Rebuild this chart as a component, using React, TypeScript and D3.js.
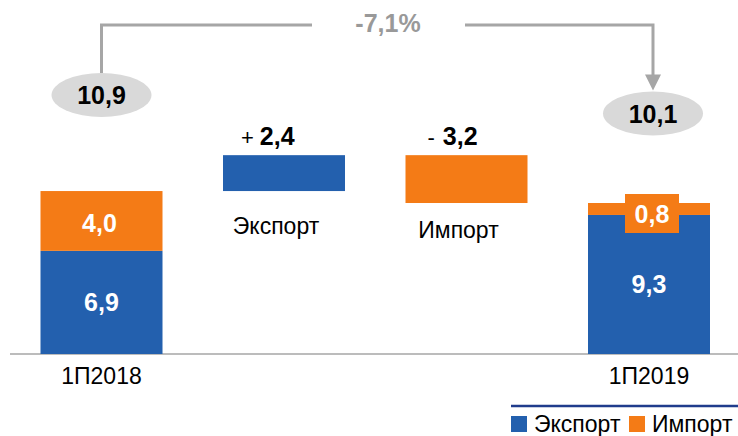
import React from "react";
import * as d3 from "d3";

// data
const steps = ["1П2018", "Экспорт", "Импорт", "1П2019"];
const periods = ["1П2018", "1П2019"];
const exportValues = [6.9, 9.3];
const importValues = [4.0, 0.8];
const changeLabels = ["Экспорт", "Импорт"];
const changeValues = [2.4, -3.2];
const totalLabels = ["10,9", "10,1"];
const diffLabel = "-7,1%";

const BLUE = "#2360AE";
const ORANGE = "#F47B16";
const GRAY = "#A6A6A6";
const FONT = "'Liberation Sans', Arial, sans-serif";

const fmt = (v: number) => Math.abs(v).toFixed(1).replace(".", ",");

const App = () => {
  const width = 738,
    height = 436;

  const x = d3
    .scaleBand<string>()
    .domain(steps)
    .range([40.5, 710])
    .paddingInner(0.3315)
    .paddingOuter(0);
  const bw = x.bandwidth();

  const base = 354;
  const y = d3.scaleLinear().domain([0, 10]).range([base, base - 149.5]);

  const totals = periods.map((p, i) => exportValues[i] + importValues[i]);

  // running level for the waterfall steps
  let level = totals[0];
  const floating = changeLabels.map((name, i) => {
    const v = changeValues[i];
    const from = level;
    const to = level + v;
    level = to;
    return { name, v, top: Math.max(from, to), bottom: Math.min(from, to) };
  });

  const x0 = x(periods[0])! + bw / 2;
  const x1 = x(periods[1])! + bw / 2;
  const ellY = [y(totals[0]) - 96, y(totals[1]) - 89.5];
  const lineY = 25;

  return (
    <svg width={width} height={height} style={{ position: "absolute", left: 0, top: 0 }}>
      {/* axis line */}
      <line x1={10} x2={738} y1={base} y2={base} stroke={GRAY} strokeWidth={1.5} />

      {/* stacked period bars */}
      {periods.map((p, i) => {
        const bx = x(p)!;
        const yE = y(exportValues[i]);
        const yT = y(totals[i]);
        return (
          <g key={p}>
            <rect x={bx} y={yE} width={bw} height={base - yE} fill={BLUE} />
            <rect x={bx} y={yT} width={bw} height={yE - yT} fill={ORANGE} />
            <text
              x={bx + bw / 2}
              y={(yE + base) / 2 + 9}
              textAnchor="middle"
              fontFamily={FONT}
              fontWeight="bold"
              fontSize={25}
              fill="#fff"
            >
              {fmt(exportValues[i])}
            </text>
            {i === 0 ? (
              <text
                x={bx + bw / 2 - 2}
                y={(yT + yE) / 2 + 11}
                textAnchor="middle"
                fontFamily={FONT}
                fontWeight="bold"
                fontSize={25}
                fill="#fff"
              >
                {fmt(importValues[i])}
              </text>
            ) : (
              <g>
                <rect x={bx + bw / 2 - 24} y={yT - 9} width={54} height={39} fill={ORANGE} />
                <text
                  x={bx + bw / 2 + 3}
                  y={yT + 20}
                  textAnchor="middle"
                  fontFamily={FONT}
                  fontWeight="bold"
                  fontSize={25}
                  fill="#fff"
                >
                  {fmt(importValues[i])}
                </text>
              </g>
            )}
            <text
              x={bx + bw / 2}
              y={384}
              textAnchor="middle"
              fontFamily={FONT}
              fontSize={23}
              fill="#000"
            >
              {p}
            </text>
          </g>
        );
      })}

      {/* floating change bars */}
      {floating.map((d, i) => {
        const bx = x(d.name)!;
        return (
          <g key={d.name}>
            <rect
              x={bx}
              y={y(d.top)}
              width={bw}
              height={y(d.bottom) - y(d.top)}
              fill={i === 0 ? BLUE : ORANGE}
            />
            <text x={bx + 18 + i * 4} y={y(d.top) - 10} fontFamily={FONT} fill="#000">
              <tspan fontSize={22}>{d.v > 0 ? "+" : "-"}</tspan>
              <tspan fontSize={25} fontWeight="bold" dx={i === 0 ? 6 : 8}>
                {fmt(d.v)}
              </tspan>
            </text>
            <text
              x={bx + bw / 2 - 8}
              y={y(d.bottom) + 43 - i * 8}
              textAnchor="middle"
              fontFamily={FONT}
              fontSize={23}
              fill="#000"
            >
              {d.name}
            </text>
          </g>
        );
      })}

      {/* bracket with change */}
      <polyline
        points={`${x0},${ellY[0] - 22} ${x0},${lineY} 312,${lineY}`}
        fill="none"
        stroke={GRAY}
        strokeWidth={3}
      />
      <polyline
        points={`465,${lineY} ${x1 + 4},${lineY} ${x1 + 4},${ellY[1] - 37}`}
        fill="none"
        stroke={GRAY}
        strokeWidth={3}
      />
      <path
        d={`M${x1 - 4},${ellY[1] - 39} L${x1 + 12},${ellY[1] - 39} L${x1 + 4},${ellY[1] - 23} Z`}
        fill={GRAY}
      />
      <text
        x={388}
        y={32}
        textAnchor="middle"
        fontFamily={FONT}
        fontWeight="bold"
        fontSize={25}
        fill="#999"
      >
        {diffLabel}
      </text>

      {/* total ellipses */}
      {[x0, x1 + 4].map((cx, i) => (
        <g key={i}>
          <ellipse cx={cx} cy={ellY[i]} rx={50} ry={22} fill="#D9D9D9" />
          <text
            x={cx}
            y={ellY[i] + 9}
            textAnchor="middle"
            fontFamily={FONT}
            fontWeight="bold"
            fontSize={25}
            fill="#000"
          >
            {totalLabels[i]}
          </text>
        </g>
      ))}

      {/* legend */}
      <line x1={511} x2={738} y1={406} y2={406} stroke="#203C8C" strokeWidth={2.5} />
      {changeLabels.map((name, i) => {
        const lx = i === 0 ? 511 : 629;
        return (
          <g key={name}>
            <rect x={lx} y={416} width={16} height={16} fill={i === 0 ? BLUE : ORANGE} />
            <text x={lx + 23} y={432} fontFamily={FONT} fontSize={23} fill="#000">
              {name}
            </text>
          </g>
        );
      })}
    </svg>
  );
};

export default App;
